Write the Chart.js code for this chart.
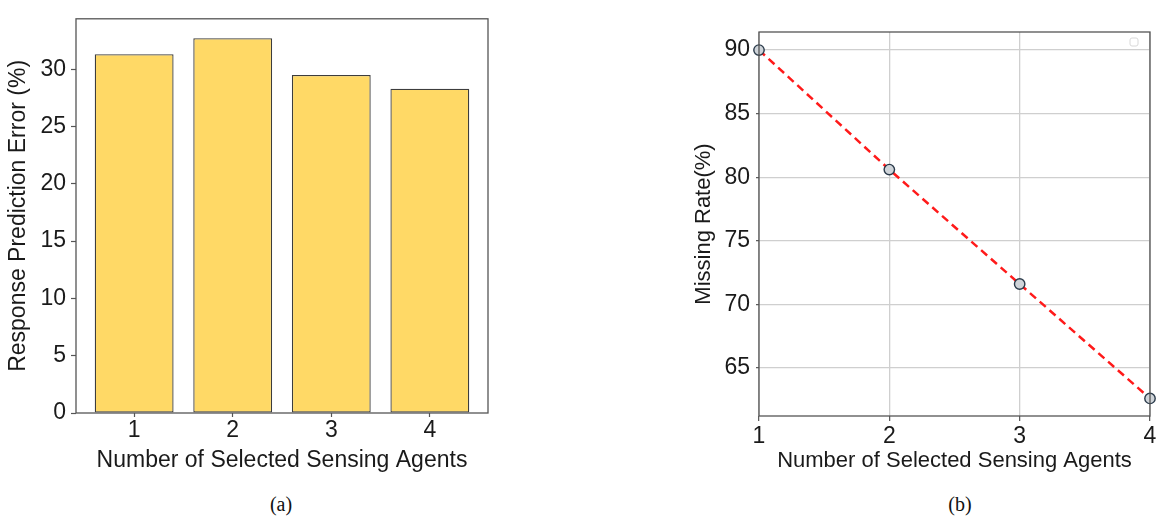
<!DOCTYPE html>
<html>
<head>
<meta charset="utf-8">
<script src="https://cdn.jsdelivr.net/npm/chart.js@4.4.1/dist/chart.umd.min.js"></script>
<style>
  html, body { margin: 0; padding: 0; background: #ffffff; }
  body { width: 1159px; height: 522px; position: relative; overflow: hidden; }
  .panel { position: absolute; top: 0; }
  #panelA { left: 0; width: 500px; height: 480px; }
  #panelB { left: 580px; width: 579px; height: 480px; }
  .caption { position: absolute; top: 493px; font-family: "Liberation Serif", "Times New Roman", serif;
             font-size: 20px; color: #111; transform: translateX(-50%); }
</style>
</head>
<body>
<div class="panel" id="panelA"><canvas id="chartA" width="500" height="480"></canvas></div>
<div class="panel" id="panelB"><canvas id="chartB" width="579" height="480"></canvas></div>
<div class="caption" style="left:281px">(a)</div>
<div class="caption" style="left:960px">(b)</div>
<script>
// Number of selected sensing agents (shared x values)
const agents = [1, 2, 3, 4];
// (a) response prediction error, percent
const predictionError = [31.3, 32.7, 29.5, 28.3];
// (b) missing rate, percent
const missingRate = [90.0, 80.6, 71.6, 62.6];
// tick labels
const errorTicks = [0, 5, 10, 15, 20, 25, 30];
const rateTicks = [65, 70, 75, 80, 85, 90];

const FONT = '"Liberation Sans", Arial, sans-serif';
const TEXT = '#1a1a1a';
const FRAME = '#555555';

// outlines the full plotting rectangle like a matplotlib axes frame
const framePlugin = {
  id: 'frame',
  afterDraw(chart, args, opts) {
    const a = chart.chartArea, ctx = chart.ctx;
    ctx.save();
    ctx.strokeStyle = opts.color || FRAME;
    ctx.lineWidth = opts.width || 1.3;
    ctx.strokeRect(a.left, a.top, a.right - a.left, a.bottom - a.top);
    if (opts.emptyLegend) {
      // empty legend box in the upper right corner
      const s = 8, x = a.right - 12 - s, y = a.top + 6;
      ctx.strokeStyle = '#d8d8d8';
      ctx.lineWidth = 1;
      ctx.beginPath();
      ctx.roundRect(x, y, s, s, 2);
      ctx.stroke();
    }
    ctx.restore();
  }
};

const tickFont = { family: FONT, size: 23 };

// ---- (a) bar chart ----
new Chart(document.getElementById('chartA'), {
  type: 'bar',
  data: {
    datasets: [{
      data: agents.map((x, i) => ({ x: x, y: predictionError[i] })),
      backgroundColor: '#ffd966',
      borderColor: '#3d3d3d',
      borderWidth: 1.3,
      borderSkipped: false,
      barPercentage: 0.8,
      categoryPercentage: 1.0
    }]
  },
  options: {
    responsive: false,
    animation: false,
    events: [],
    layout: { padding: { top: 8, right: 12, left: 0, bottom: 0 } },
    plugins: { legend: { display: false }, tooltip: { enabled: false }, frame: { color: FRAME } },
    scales: {
      x: {
        type: 'linear',
        offset: false,
        min: 0.41, max: 4.59,
        afterBuildTicks: s => { s.ticks = agents.map(v => ({ value: v })); },
        afterFit: s => { s.height = 67; },
        grid: { display: true, offset: false, drawOnChartArea: false, drawTicks: true, tickLength: 4, tickColor: FRAME, tickWidth: 1.2 },
        border: { display: false },
        ticks: { font: tickFont, color: TEXT, padding: 0, maxRotation: 0 },
        title: { display: true, text: 'Number of Selected Sensing Agents', font: { family: FONT, size: 23 }, color: TEXT, padding: { top: 0, bottom: 6 } }
      },
      y: {
        min: 0, max: 34.4,
        afterBuildTicks: s => { s.ticks = errorTicks.map(v => ({ value: v })); },
        afterFit: s => { s.width = 76; },
        grid: { display: true, drawOnChartArea: false, drawTicks: true, tickLength: 5, tickColor: FRAME, tickWidth: 1.2 },
        border: { display: false },
        ticks: { font: tickFont, color: TEXT, padding: 5 },
        title: { display: true, text: 'Response Prediction Error (%)', font: { family: FONT, size: 23 }, color: TEXT, padding: { top: 5, bottom: 0 } }
      }
    }
  },
  plugins: [framePlugin]
});

// ---- (b) line chart ----
new Chart(document.getElementById('chartB'), {
  type: 'line',
  data: {
    datasets: [{
      data: agents.map((x, i) => ({ x: x, y: missingRate[i] })),
      borderColor: '#ff1a1a',
      borderWidth: 2.5,
      borderDash: [8, 5],
      fill: false,
      tension: 0,
      pointRadius: 5.2,
      pointBackgroundColor: '#cfd4d9',
      pointBorderColor: '#2a3a4a',
      pointBorderWidth: 1.4,
      clip: false
    }]
  },
  options: {
    responsive: false,
    animation: false,
    events: [],
    layout: { padding: { top: 32, right: 9, left: 105, bottom: 0 } },
    plugins: { legend: { display: false }, tooltip: { enabled: false }, frame: { color: FRAME, emptyLegend: true } },
    scales: {
      x: {
        type: 'linear',
        min: 1, max: 4,
        afterBuildTicks: s => { s.ticks = agents.map(v => ({ value: v })); },
        afterFit: s => { s.height = 64; },
        grid: { display: true, color: '#cfcfcf', lineWidth: 1.3, drawTicks: true, tickLength: 5, tickColor: FRAME, tickWidth: 1.2 },
        border: { display: false },
        ticks: { font: tickFont, color: TEXT, padding: 2, maxRotation: 0 },
        title: { display: true, text: 'Number of Selected Sensing Agents', font: { family: FONT, size: 22 }, color: TEXT, padding: { top: 0, bottom: 6 } }
      },
      y: {
        min: 61.22, max: 91.42,
        afterBuildTicks: s => { s.ticks = rateTicks.map(v => ({ value: v })); },
        afterFit: s => { s.width = 74; },
        grid: { display: true, color: '#cfcfcf', lineWidth: 1.3, drawTicks: true, tickLength: 3, tickColor: FRAME, tickWidth: 1.2 },
        border: { display: false },
        ticks: { font: tickFont, color: TEXT, padding: 6 },
        title: { display: true, text: 'Missing Rate(%)', font: { family: FONT, size: 22 }, color: TEXT, padding: { top: 6, bottom: 0 } }
      }
    }
  },
  plugins: [framePlugin]
});
</script>
</body>
</html>
